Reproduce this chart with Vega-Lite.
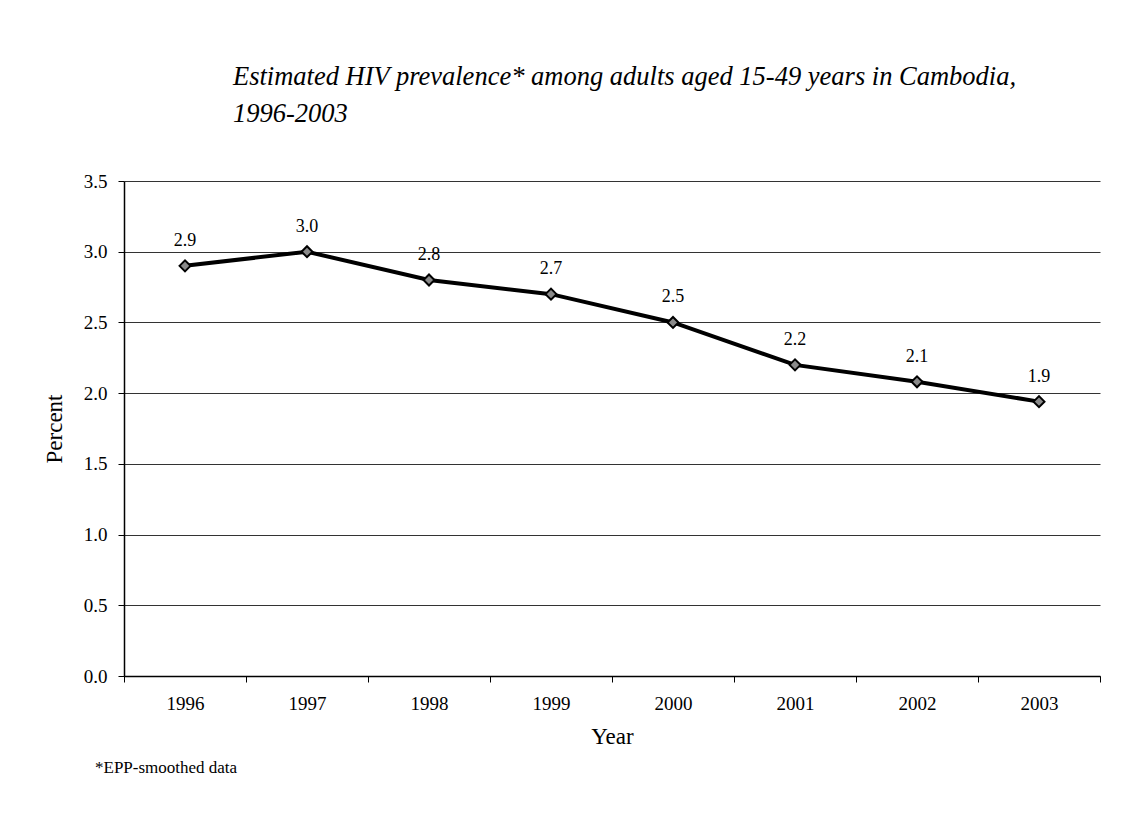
{
  "$schema": "https://vega.github.io/schema/vega-lite/v6.json",
  "width": 976,
  "height": 495,
  "autosize": "none",
  "padding": {"left": 124, "top": 181, "right": 32, "bottom": 142},
  "background": "white",
  "title": {
    "text": ["Estimated HIV prevalence* among adults aged 15-49 years in Cambodia,", "1996-2003"],
    "anchor": "start",
    "frame": "group",
    "dx": 109,
    "offset": 45,
    "font": "Liberation Serif",
    "fontStyle": "italic",
    "fontWeight": "normal",
    "fontSize": 26.5,
    "lineHeight": 37,
    "color": "black"
  },
  "datasets": {
    "prevalence": [
      {"year": "1996", "value": 2.9},
      {"year": "1997", "value": 3.0},
      {"year": "1998", "value": 2.8},
      {"year": "1999", "value": 2.7},
      {"year": "2000", "value": 2.5},
      {"year": "2001", "value": 2.2},
      {"year": "2002", "value": 2.08},
      {"year": "2003", "value": 1.94}
    ],
    "notes": [{"note": "*EPP-smoothed data"}]
  },
  "layer": [
    {
      "data": {"name": "prevalence"},
      "mark": {"type": "line", "color": "black", "strokeWidth": 4},
      "encoding": {
        "x": {
          "field": "year",
          "type": "ordinal",
          "scale": {"paddingInner": 0, "paddingOuter": 0},
          "axis": {
            "title": "Year",
            "labelAngle": 0,
            "tickBand": "extent",
            "tickSize": 6,
            "tickColor": "black",
            "domainColor": "black",
            "domainWidth": 1.5,
            "labelFont": "Liberation Serif",
            "labelFontSize": 19,
            "labelColor": "black",
            "labelPadding": 12,
            "titleFont": "Liberation Serif",
            "titleFontSize": 23,
            "titleFontWeight": "normal",
            "titleColor": "black",
            "titlePadding": 12,
            "grid": false
          }
        },
        "y": {
          "field": "value",
          "type": "quantitative",
          "scale": {"domain": [0, 3.5], "nice": false, "zero": true},
          "axis": {
            "title": "Percent",
            "values": [0, 0.5, 1, 1.5, 2, 2.5, 3, 3.5],
            "format": ".1f",
            "grid": true,
            "gridColor": "#333",
            "gridWidth": 1,
            "tickSize": 6,
            "tickColor": "black",
            "domainColor": "black",
            "domainWidth": 1.5,
            "labelFont": "Liberation Serif",
            "labelFontSize": 19,
            "labelColor": "black",
            "labelPadding": 11,
            "titleFont": "Liberation Serif",
            "titleFontSize": 23,
            "titleFontWeight": "normal",
            "titleColor": "black",
            "titlePadding": 17
          }
        }
      }
    },
    {
      "data": {"name": "prevalence"},
      "mark": {"type": "point", "shape": "diamond", "filled": true, "fill": "#8a8a8a", "stroke": "black", "strokeWidth": 2, "size": 120, "opacity": 1},
      "encoding": {
        "x": {"field": "year", "type": "ordinal"},
        "y": {"field": "value", "type": "quantitative"}
      }
    },
    {
      "data": {"name": "prevalence"},
      "mark": {"type": "text", "dy": -25, "font": "Liberation Serif", "fontSize": 18, "color": "black"},
      "encoding": {
        "x": {"field": "year", "type": "ordinal"},
        "y": {"field": "value", "type": "quantitative"},
        "text": {"field": "value", "type": "quantitative", "format": ".1f"}
      }
    },
    {
      "data": {"name": "notes"},
      "mark": {"type": "text", "align": "left", "baseline": "middle", "dx": -90, "font": "Liberation Serif", "fontSize": 17, "color": "black"},
      "encoding": {
        "x": {"datum": "1996", "type": "ordinal"},
        "y": {"datum": -0.65, "type": "quantitative"},
        "text": {"field": "note", "type": "nominal"}
      }
    }
  ],
  "config": {"view": {"stroke": null}, "font": "Liberation Serif"}
}
